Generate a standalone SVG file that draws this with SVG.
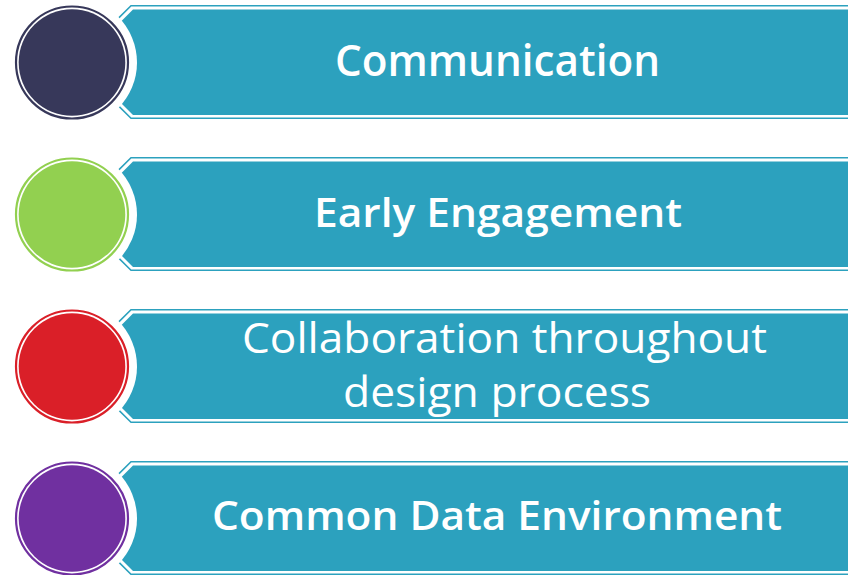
<svg xmlns="http://www.w3.org/2000/svg" width="848" height="575" viewBox="0 0 848 575">
<style>
.outline{fill:none;stroke:#2CA1BE;stroke-width:1.6}
.band{fill:#2CA1BE}
.halo{fill:#FFFFFF}
.lbl{fill:#FFFFFF;font-family:"Open Sans","DejaVu Sans",sans-serif;text-anchor:middle}
.b{font-weight:600}
.r{font-weight:400}
</style>
<defs>
<path id="bandOutline" d="M131,5.7 H852 V118.3 H131 L118,105.3 V18.7 Z"/>
<path id="bandFill" d="M133,9.5 H852 V115 H133 L121,103 V21.5 Z"/>
</defs>
<rect width="848" height="575" fill="#FFFFFF"/>
<g id="connectors"></g>

<g id="node-communication">
<use href="#bandOutline" class="outline"/>
<use href="#bandFill" class="band"/>
<circle class="halo" cx="72" cy="62.5" r="65"/>
<circle cx="72" cy="62.5" r="56" fill="none" stroke="#37385A" stroke-width="2.2"/>
<circle cx="72" cy="62.5" r="53.3" fill="#37385A"/>
<text class="lbl b" x="497.5" y="76" font-size="44" textLength="325" lengthAdjust="spacingAndGlyphs">Communication</text>
</g>

<g id="node-early-engagement" transform="translate(0,152)">
<use href="#bandOutline" class="outline"/>
<use href="#bandFill" class="band"/>
<circle class="halo" cx="72" cy="62.5" r="65"/>
<circle cx="72" cy="62.5" r="56" fill="none" stroke="#92D050" stroke-width="2.2"/>
<circle cx="72" cy="62.5" r="53.3" fill="#92D050"/>
<text class="lbl b" x="498" y="75" font-size="40" textLength="368" lengthAdjust="spacingAndGlyphs">Early Engagement</text>
</g>

<g id="node-collaboration" transform="translate(0,304)">
<use href="#bandOutline" class="outline"/>
<use href="#bandFill" class="band"/>
<circle class="halo" cx="72" cy="62.5" r="65"/>
<circle cx="72" cy="62.5" r="56" fill="none" stroke="#DA1F28" stroke-width="2.2"/>
<circle cx="72" cy="62.5" r="53.3" fill="#DA1F28"/>
<text class="lbl r" font-size="42"><tspan x="504.5" y="49" textLength="525" lengthAdjust="spacingAndGlyphs">Collaboration throughout</tspan><tspan x="497" y="103" textLength="308" lengthAdjust="spacingAndGlyphs">design process</tspan></text>
</g>

<g id="node-cde" transform="translate(0,456)">
<use href="#bandOutline" class="outline"/>
<use href="#bandFill" class="band"/>
<circle class="halo" cx="72" cy="62.5" r="65"/>
<circle cx="72" cy="62.5" r="56" fill="none" stroke="#7030A0" stroke-width="2.2"/>
<circle cx="72" cy="62.5" r="53.3" fill="#7030A0"/>
<text class="lbl b" x="497" y="74" font-size="40" textLength="570" lengthAdjust="spacingAndGlyphs">Common Data Environment</text>
</g>
</svg>
